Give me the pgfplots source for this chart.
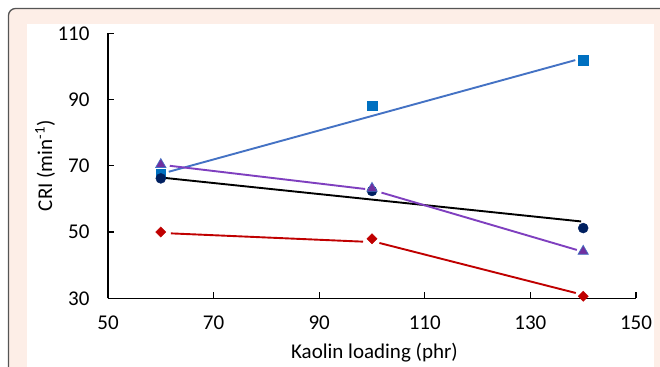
\documentclass[border=0pt]{standalone}
\usepackage{pgfplots}
\pgfplotsset{compat=1.18}
\usepackage{fontspec}
\setmainfont{Carlito}
\definecolor{peach}{HTML}{FDEEE7}
\definecolor{frame}{HTML}{555555}
\definecolor{mblue}{HTML}{0070C0}
\definecolor{lblue}{HTML}{4472C4}
\definecolor{navy}{HTML}{002060}
\definecolor{mpurple}{HTML}{7030A0}
\definecolor{lpurple}{HTML}{7F3FBF}
\definecolor{mred}{HTML}{C00000}
\begin{document}
\begin{tikzpicture}
\useasboundingbox (0,0) rectangle (660bp,367bp);
\begin{scope}
\clip (0,0) rectangle (660bp,367bp);
\draw[overlay, frame, line width=1.3bp, fill=peach, rounded corners=7bp] (8.5bp,-30bp) rectangle (700bp,358.5bp);
\fill[overlay, white] (27bp,-10bp) rectangle (654bp,343bp);
\end{scope}
\begin{axis}[
  scale only axis,
  width=528bp, height=265bp,
  at={(108bp,68.7bp)}, anchor=south west,
  xmin=50, xmax=150, ymin=30, ymax=110,
  xtick={50,70,90,110,130,150},
  ytick={30,50,70,90,110},
  axis x line*=bottom, axis y line*=left,
  axis line style={line width=1.1bp, -},
  tick style={line width=1.1bp, black},
  major tick length=6bp,
  tick align=inside,
  font=\fontsize{21bp}{25bp}\selectfont,
  /pgf/number format/assume math mode=true,
  yticklabel style={xshift=-15bp},
  xticklabel style={yshift=-14bp},
  xlabel={Kaolin loading (phr)},
  ylabel={CRI (min\textsuperscript{-1})},
  xlabel style={at={(axis description cs:0.5047,-0.2064)}, anchor=center},
  ylabel style={at={(axis description cs:-0.1193,0.5)}, anchor=center, rotate=0},
  clip=false,
]
% lines
\addplot[lblue, line width=1.9bp, no marks] coordinates {(61.5,68.2) (138.5,101.9)};
\addplot[black, line width=1.9bp, no marks] coordinates {(61,66.3) (139.6,53.2)};
\addplot[lpurple, line width=1.9bp, no marks] coordinates {(61.7,70.0) (98.7,63.0)};
\addplot[lpurple, line width=1.9bp, no marks] coordinates {(101.8,61.9) (138.8,44.6)};
\addplot[mred, line width=1.9bp, no marks] coordinates {(61.9,49.6) (98.3,47.1)};
\addplot[mred, line width=1.9bp, no marks] coordinates {(101.4,46.7) (138.6,31.6)};
% markers
\addplot[only marks, mark=square*, mark size=4.7bp, mark options={fill=mblue, draw=mblue}] coordinates {(60,67.7) (100,88.1) (140,101.9)};
\addplot[only marks, mark=*, mark size=5bp, mark options={fill=navy, draw=navy}] coordinates {(60,66.2) (100,62.4) (140,51.2)};
\addplot[only marks, mark=triangle*, mark size=6bp, mark options={fill=mpurple, draw=lblue, line width=0.6bp}] coordinates {(60,70.4) (100,63.2) (140,44.2)};
\addplot[only marks, mark=square*, mark size=3.6bp, mark options={fill=mred, draw=mred, rotate=45}] coordinates {(60,50.0) (100,48.0) (140,30.6)};
\end{axis}
\end{tikzpicture}
\end{document}
